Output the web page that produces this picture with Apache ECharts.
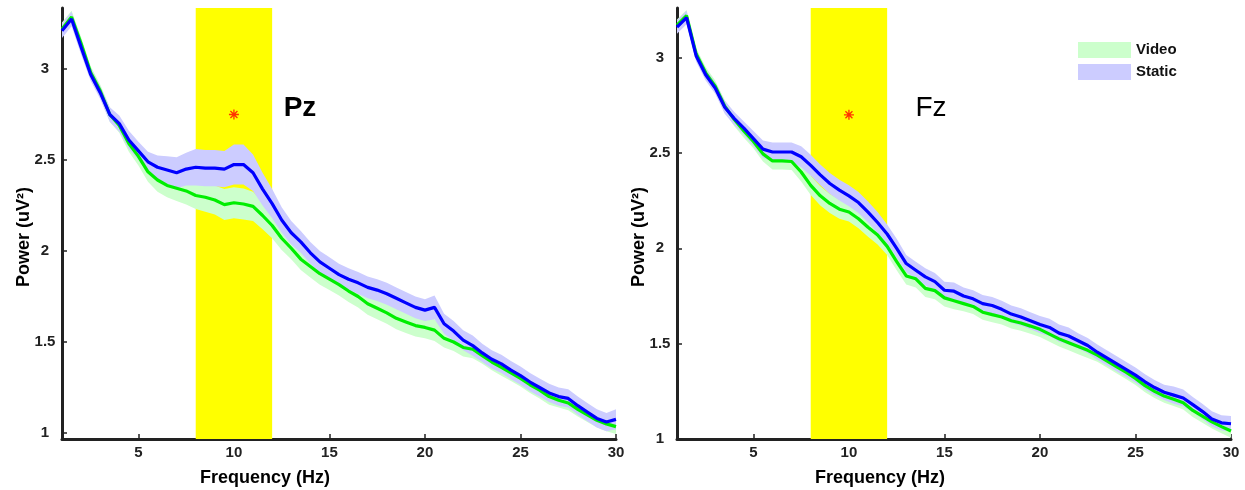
<!DOCTYPE html>
<html>
<head>
<meta charset="utf-8">
<script src="https://cdn.jsdelivr.net/npm/echarts@6/dist/echarts.min.js"></script>
<style>
  html, body { margin: 0; padding: 0; background: #fff; }
  #chart { width: 1245px; height: 490px; }
</style>
</head>
<body>
<div id="chart"></div>
<script>
// frequency bins (Hz)
const freqs = [1, 1.5, 2, 2.5, 3, 3.5, 4, 4.5, 5, 5.5,
  6, 6.5, 7, 7.5, 8, 8.5, 9, 9.5, 10, 10.5,
  11, 11.5, 12, 12.5, 13, 13.5, 14, 14.5, 15, 15.5,
  16, 16.5, 17, 17.5, 18, 18.5, 19, 19.5, 20, 20.5,
  21, 21.5, 22, 22.5, 23, 23.5, 24, 24.5, 25, 25.5,
  26, 26.5, 27, 27.5, 28, 28.5, 29, 29.5, 30];

// Pz mean power
const pzStatic = [3.21, 3.275, 3.12, 2.97, 2.87, 2.75, 2.70, 2.61, 2.55, 2.49,
  2.46, 2.445, 2.43, 2.45, 2.46, 2.455, 2.455, 2.45, 2.475, 2.475,
  2.43, 2.34, 2.26, 2.17, 2.10, 2.05, 1.99, 1.94, 1.905, 1.87,
  1.845, 1.825, 1.80, 1.785, 1.765, 1.74, 1.715, 1.69, 1.675, 1.69,
  1.60, 1.56, 1.51, 1.48, 1.44, 1.405, 1.38, 1.345, 1.315, 1.28,
  1.25, 1.22, 1.20, 1.19, 1.15, 1.115, 1.08, 1.06, 1.075];
const pzVideo = [3.22, 3.285, 3.14, 2.98, 2.88, 2.75, 2.69, 2.59, 2.52, 2.435,
  2.39, 2.36, 2.345, 2.33, 2.305, 2.295, 2.28, 2.255, 2.265, 2.258,
  2.245, 2.195, 2.14, 2.07, 2.015, 1.955, 1.915, 1.875, 1.845, 1.815,
  1.78, 1.75, 1.71, 1.685, 1.66, 1.63, 1.61, 1.59, 1.58, 1.565,
  1.52, 1.50, 1.47, 1.46, 1.425, 1.39, 1.36, 1.33, 1.30, 1.265,
  1.235, 1.20, 1.18, 1.165, 1.13, 1.10, 1.07, 1.05, 1.035];

// Fz mean power
const fzStatic = [3.16, 3.21, 3.01, 2.91, 2.84, 2.74, 2.68, 2.63, 2.575, 2.52,
  2.505, 2.505, 2.505, 2.48, 2.435, 2.385, 2.34, 2.305, 2.275, 2.24,
  2.19, 2.135, 2.075, 2.0, 1.92, 1.885, 1.85, 1.825, 1.78, 1.775,
  1.75, 1.735, 1.71, 1.70, 1.68, 1.655, 1.64, 1.62, 1.60, 1.585,
  1.555, 1.54, 1.515, 1.49, 1.455, 1.425, 1.395, 1.365, 1.335, 1.30,
  1.27, 1.245, 1.23, 1.215, 1.18, 1.145, 1.105, 1.085, 1.08];
const fzVideo = [3.17, 3.22, 3.02, 2.92, 2.85, 2.745, 2.675, 2.615, 2.56, 2.495,
  2.458, 2.458, 2.455, 2.40, 2.33, 2.275, 2.235, 2.205, 2.19, 2.155,
  2.11, 2.07, 2.01, 1.93, 1.855, 1.84, 1.79, 1.778, 1.74, 1.725,
  1.71, 1.695, 1.665, 1.652, 1.64, 1.62, 1.608, 1.592, 1.575, 1.55,
  1.525, 1.505, 1.485, 1.465, 1.44, 1.41, 1.38, 1.35, 1.318, 1.28,
  1.25, 1.225, 1.208, 1.19, 1.15, 1.12, 1.09, 1.065, 1.042];

// shaded error (half width)
const pzStaticErr = [0.04, 0.04, 0.04, 0.035, 0.035, 0.04, 0.045, 0.05, 0.05, 0.055,
  0.065, 0.075, 0.085, 0.09, 0.1, 0.1, 0.1, 0.1, 0.11, 0.11,
  0.1, 0.09, 0.08, 0.07, 0.065, 0.06, 0.06, 0.06, 0.06, 0.06,
  0.06, 0.06, 0.06, 0.06, 0.06, 0.06, 0.06, 0.06, 0.06, 0.065,
  0.055, 0.055, 0.055, 0.055, 0.05, 0.05, 0.05, 0.05, 0.05, 0.05,
  0.05, 0.05, 0.05, 0.05, 0.05, 0.05, 0.05, 0.05, 0.055];
const pzVideoErr = [0.035, 0.035, 0.035, 0.035, 0.035, 0.04, 0.04, 0.045, 0.05, 0.055,
  0.065, 0.065, 0.07, 0.075, 0.075, 0.08, 0.08, 0.085, 0.085, 0.085,
  0.08, 0.075, 0.07, 0.065, 0.06, 0.06, 0.06, 0.06, 0.06, 0.06,
  0.06, 0.06, 0.06, 0.06, 0.06, 0.06, 0.06, 0.06, 0.06, 0.06,
  0.05, 0.05, 0.05, 0.05, 0.045, 0.045, 0.045, 0.045, 0.045, 0.045,
  0.045, 0.045, 0.04, 0.04, 0.04, 0.04, 0.04, 0.04, 0.04];
const fzStaticErr = [0.035, 0.035, 0.03, 0.03, 0.03, 0.035, 0.035, 0.035, 0.04, 0.045,
  0.05, 0.05, 0.05, 0.055, 0.055, 0.055, 0.055, 0.055, 0.055, 0.055,
  0.055, 0.055, 0.05, 0.05, 0.045, 0.045, 0.045, 0.045, 0.045, 0.045,
  0.045, 0.045, 0.045, 0.045, 0.045, 0.045, 0.045, 0.045, 0.045, 0.045,
  0.045, 0.045, 0.04, 0.04, 0.04, 0.04, 0.04, 0.04, 0.04, 0.04,
  0.04, 0.04, 0.045, 0.045, 0.04, 0.04, 0.04, 0.04, 0.04];
const fzVideoErr = [0.03, 0.03, 0.03, 0.03, 0.03, 0.03, 0.035, 0.035, 0.035, 0.04,
  0.045, 0.045, 0.045, 0.05, 0.05, 0.05, 0.05, 0.05, 0.05, 0.05,
  0.05, 0.05, 0.045, 0.045, 0.045, 0.045, 0.045, 0.045, 0.045, 0.045,
  0.04, 0.04, 0.04, 0.04, 0.04, 0.04, 0.04, 0.04, 0.04, 0.04,
  0.04, 0.04, 0.04, 0.04, 0.035, 0.035, 0.035, 0.035, 0.035, 0.035,
  0.035, 0.035, 0.035, 0.035, 0.035, 0.035, 0.035, 0.035, 0.035];

const xTicks = [5, 10, 15, 20, 25, 30];
const yTicks = [1, 1.5, 2, 2.5, 3];
const alphaBand = [8, 12];       // shaded alpha range (Hz)
const starPz = [10, 2.75];       // significance marker
const starFz = [10, 2.70];
const panelNames = ['Pz', 'Fz'];

const FONT = '"Liberation Sans", Arial, Helvetica, sans-serif';
const GREEN = '#00ee00', BLUE = '#0000ff';
const GREEN_BAND = '#ccffcc', BLUE_BAND = '#ccccff';

const grids = [
  { left: 62, top: 8, width: 554, height: 431 },
  { left: 677, top: 8, width: 554, height: 431 }
];
const yRanges = [[0.967, 3.335], [1, 3.26]];

// yellow alpha-range rectangle
function alphaSeries(idx) {
  return {
    type: 'custom', xAxisIndex: idx, yAxisIndex: idx, z: 1, silent: true,
    data: [[alphaBand[0], alphaBand[1]]],
    renderItem: function (params, api) {
      const p0 = api.coord([api.value(0), yRanges[idx][1]]);
      const p1 = api.coord([api.value(1), yRanges[idx][0]]);
      return {
        type: 'rect',
        shape: { x: p0[0], y: p0[1], width: p1[0] - p0[0], height: p1[1] - p0[1] },
        style: { fill: '#ffff00' }
      };
    }
  };
}

// mean +- err shaded polygon
function bandSeries(idx, name, mean, err, color) {
  return {
    name: name, type: 'custom', xAxisIndex: idx, yAxisIndex: idx, z: 2, silent: true,
    itemStyle: { color: color },
    data: freqs.map((f, i) => [f, mean[i] - err[i], mean[i] + err[i]]),
    encode: { x: 0, y: [1, 2] },
    renderItem: function (params, api) {
      if (params.dataIndex !== 0) return null;
      const upper = [], lower = [];
      for (let i = 0; i < freqs.length; i++) {
        upper.push(api.coord([freqs[i], mean[i] + err[i]]));
        lower.push(api.coord([freqs[i], mean[i] - err[i]]));
      }
      return {
        type: 'polygon',
        shape: { points: upper.concat(lower.reverse()) },
        style: { fill: color }
      };
    }
  };
}

function meanSeries(idx, mean, color) {
  return {
    type: 'line', xAxisIndex: idx, yAxisIndex: idx,
    data: freqs.map((f, i) => [f, mean[i]]), symbol: 'none', z: 4, silent: true,
    lineStyle: { color: color, width: 3.2 }
  };
}

function starSeries(idx, pos) {
  return {
    type: 'scatter', xAxisIndex: idx, yAxisIndex: idx, z: 5, silent: true,
    data: [pos],
    symbol: 'path://M5,0L5,10M0,5L10,5M1.5,1.5L8.5,8.5M1.5,8.5L8.5,1.5',
    symbolSize: 10,
    itemStyle: { color: 'transparent', borderColor: '#ff0000', borderWidth: 1.3 }
  };
}

const xAxes = grids.map((g, i) => ({
  gridIndex: i, type: 'value', min: 1, max: 30,
  axisLine: { onZero: false, lineStyle: { color: '#222', width: 3 } },
  axisTick: { inside: true, length: 5, customValues: xTicks, lineStyle: { color: '#222', width: 1.5 } },
  axisLabel: { customValues: xTicks, margin: 6, fontFamily: FONT, fontWeight: 'bold', fontSize: 15, color: '#222' },
  splitLine: { show: false }
}));

const yAxes = grids.map((g, i) => ({
  gridIndex: i, type: 'value', min: yRanges[i][0], max: yRanges[i][1],
  axisLine: { show: true, onZero: false, lineStyle: { color: '#222', width: 3 } },
  axisTick: { show: true, inside: true, length: 5, customValues: yTicks, lineStyle: { color: '#222', width: 1.5 } },
  axisLabel: { customValues: yTicks, margin: 17, align: 'center', fontFamily: FONT, fontWeight: 'bold', fontSize: 15, color: '#222' },
  splitLine: { show: false }
}));

const series = [
  alphaSeries(0),
  bandSeries(0, 'Video', pzVideo, pzVideoErr, GREEN_BAND),
  bandSeries(0, 'Static', pzStatic, pzStaticErr, BLUE_BAND),
  meanSeries(0, pzVideo, GREEN),
  meanSeries(0, pzStatic, BLUE),
  starSeries(0, starPz),
  alphaSeries(1),
  bandSeries(1, 'Video', fzVideo, fzVideoErr, GREEN_BAND),
  bandSeries(1, 'Static', fzStatic, fzStaticErr, BLUE_BAND),
  meanSeries(1, fzVideo, GREEN),
  meanSeries(1, fzStatic, BLUE),
  starSeries(1, starFz)
];

function label(x, y, text, size, weight, rot) {
  return {
    type: 'text', x: x, y: y, rotation: rot || 0, z: 10,
    style: {
      text: text, fill: '#000', align: 'center', verticalAlign: 'middle',
      font: weight + ' ' + size + 'px ' + FONT
    }
  };
}

const chart = echarts.init(document.getElementById('chart'), null, { renderer: 'canvas' });
chart.setOption({
  animation: false,
  backgroundColor: '#ffffff',
  grid: grids,
  xAxis: xAxes,
  yAxis: yAxes,
  legend: {
    left: 1078, top: 42, orient: 'vertical', padding: 0,
    itemWidth: 53, itemHeight: 16, itemGap: 6,
    selectedMode: false,
    textStyle: { fontFamily: FONT, fontWeight: 'bold', fontSize: 15, color: '#111' },
    data: [
      { name: 'Video', icon: 'rect', itemStyle: { color: GREEN_BAND } },
      { name: 'Static', icon: 'rect', itemStyle: { color: BLUE_BAND } }
    ]
  },
  graphic: [
    label(300, 108, panelNames[0], 28, 'bold'),
    label(931, 108, panelNames[1], 28, 'normal'),
    label(265, 478, 'Frequency (Hz)', 18, 'bold'),
    label(880, 478, 'Frequency (Hz)', 18, 'bold'),
    label(24, 237, 'Power (uV²)', 18, 'bold', Math.PI / 2),
    label(639, 237, 'Power (uV²)', 18, 'bold', Math.PI / 2)
  ],
  series: series
});
</script>
</body>
</html>
